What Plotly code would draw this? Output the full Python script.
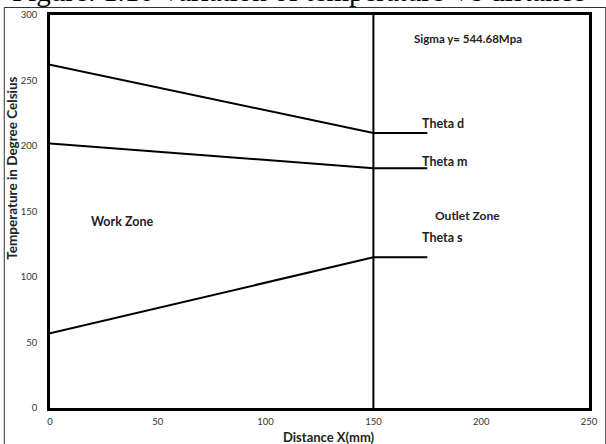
import plotly.graph_objects as go

# ---- data ----
distance_x = [0, 150, 175]
theta_d = [262, 210, 210]
theta_m = [202, 183, 183]
theta_s = [57, 115, 115]
zone_boundary_x = [150, 150]
zone_boundary_y = [0, 300]
x_ticks = [0, 50, 100, 150, 200, 250]
y_ticks = [0, 50, 100, 150, 200, 250, 300]

W, H = 606, 444
L, R, T, B = 50, 8, 15, 36
pw, ph = W - L - R, H - T - B

def px_x(p):  # pixel -> paper x
    return (p - L) / pw

def px_y(p):  # pixel -> paper y
    return (H - B - p) / ph

fig = go.Figure()
line_style = dict(color="black", width=2)
for name, ys in [("Theta d", theta_d), ("Theta m", theta_m), ("Theta s", theta_s)]:
    fig.add_trace(go.Scatter(x=distance_x, y=ys, mode="lines", name=name,
                             line=line_style, showlegend=False, hoverinfo="skip"))
fig.add_trace(go.Scatter(x=zone_boundary_x, y=zone_boundary_y, mode="lines",
                         line=line_style, showlegend=False, hoverinfo="skip"))

def f(size):
    return dict(family="Lato", size=size, color="#222")

ann = []
def add(text, x, y, size, xanchor="left"):
    ann.append(dict(text=text, x=x, y=y, xref="x", yref="y", xanchor=xanchor,
                    yanchor="middle", showarrow=False, font=f(size)))

add("<b>Sigma y= 544.68Mpa</b>", 168, 282, 11.5)
add("<b>Theta d</b>", 171.5, 217, 12.5)
add("<b>Theta m</b>", 171.5, 188, 12.5)
add("<b>Outlet Zone</b>", 177.5, 147, 12)
add("<b>Theta s</b>", 171.5, 130.5, 12.5)
add("<b>Work Zone</b>", 18.3, 142, 12.5)

# title (clipped at top in the reference)
ann.append(dict(text="Figure: 1.10 Variation of temperature Vs distance",
                x=px_x(303), y=px_y(-9), xref="paper", yref="paper",
                xanchor="center", yanchor="middle", showarrow=False,
                font=dict(family="Liberation Serif", size=29, color="black")))
# axis titles
ann.append(dict(text="<b>Distance X(mm)</b>", x=px_x(334), y=px_y(437),
                xref="paper", yref="paper", xanchor="center", yanchor="middle",
                showarrow=False, font=f(13)))
ann.append(dict(text="<b>Temperature in Degree Celsius</b>", x=px_x(11), y=px_y(168),
                xref="paper", yref="paper", xanchor="center", yanchor="middle",
                textangle=-90, showarrow=False, font=f(13.5)))

axis_common = dict(showline=True, mirror=True, linecolor="black", linewidth=2.5,
                   showgrid=False, zeroline=False, ticks="",
                   tickfont=dict(family="Lato", size=9.5, color="#333"))

fig.update_layout(
    width=W, height=H,
    margin=dict(l=L, r=R, t=T, b=B),
    paper_bgcolor="white", plot_bgcolor="white",
    xaxis=dict(range=[0, 250], tickvals=x_ticks, ticklabelstandoff=3, **axis_common),
    yaxis=dict(range=[0, 300], tickvals=y_ticks, ticklabelstandoff=8, **axis_common),
    annotations=ann,
    shapes=[dict(type="rect", xref="paper", yref="paper",
                 x0=px_x(3.5), x1=px_x(615), y0=px_y(7.5), y1=px_y(460),
                 line=dict(color="#333", width=1), layer="below")],
)

fig.write_html("out.html")
